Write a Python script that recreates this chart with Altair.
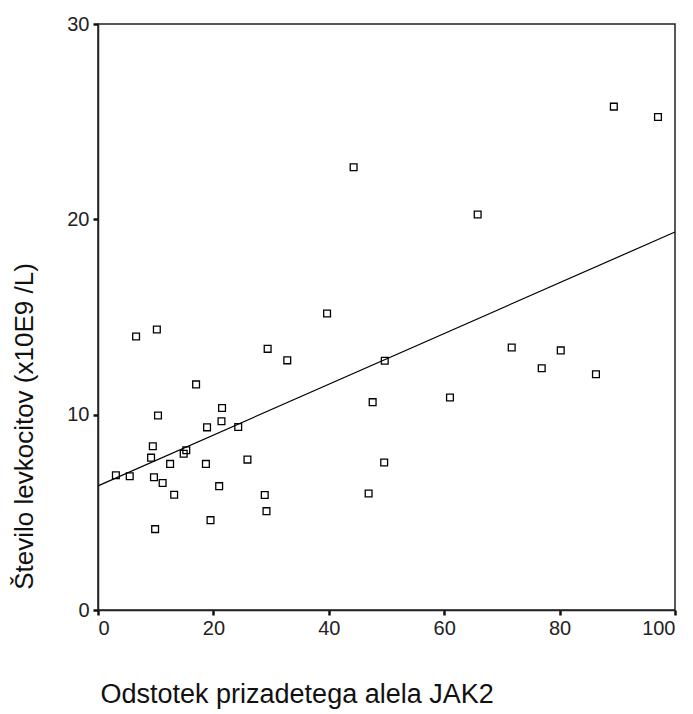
import altair as alt
import pandas as pd

jak2 = [3.1, 5.5, 6.6, 10.2, 10.4, 9.5, 9.2, 9.7, 11.2, 13.2, 9.9, 12.5, 17.0, 14.85,
        15.3, 18.9, 18.7, 21.5, 21.4, 24.3, 25.9, 21.0, 19.5, 28.9, 29.2, 29.4, 32.8,
        44.3, 39.7, 49.7, 47.6, 49.6, 46.9, 65.8, 61.0, 71.7, 80.2, 76.9, 86.3, 89.4, 97.05]
levk = [6.9, 6.85, 14.0, 14.36, 9.96, 8.38, 7.8, 6.8, 6.5, 5.9, 4.14, 7.48, 11.55, 8.0,
        8.18, 9.35, 7.48, 10.34, 9.66, 9.37, 7.7, 6.34, 4.6, 5.89, 5.06, 13.37, 12.78,
        22.67, 15.18, 12.76, 10.64, 7.55, 5.96, 20.25, 10.88, 13.44, 13.29, 12.38, 12.07, 25.77, 25.24]

x_ticks = [0, 20, 40, 60, 80, 100]
y_ticks = [0, 10, 20, 30]

df = pd.DataFrame({"x": jak2, "y": levk})

FONT = "Liberation Sans"

xenc = alt.X("x:Q", scale=alt.Scale(domain=[0, 100], nice=False, zero=False),
             axis=alt.Axis(values=x_ticks, title="Odstotek prizadetega alela JAK2",
                           grid=False, domainColor="#222", domainWidth=1.5,
                           tickColor="#111", tickWidth=2.5, tickSize=5,
                           labelFont=FONT, labelFontSize=20, labelColor="#222", labelPadding=3,
                           titleFont=FONT, titleFontSize=27, titleFontWeight="normal",
                           titleColor="#111", titleAnchor="start", titleAlign="left",
                           titleX=2, titleY=84, titleBaseline="middle"))
yenc = alt.Y("y:Q", scale=alt.Scale(domain=[0, 30], nice=False, zero=False),
             axis=alt.Axis(values=y_ticks, title="Število levkocitov (x10E9 /L)",
                           grid=False, domainColor="#222", domainWidth=1.5,
                           tickColor="#111", tickWidth=2.5, tickSize=5,
                           labelFont=FONT, labelFontSize=20, labelColor="#222", labelPadding=4,
                           titleFont=FONT, titleFontSize=26, titleFontWeight="normal",
                           titleColor="#111", titleAngle=-90, titleAlign="center",
                           titleBaseline="middle", titleX=-74, titleY=402))

base = alt.Chart(df)

points = base.mark_point(shape="square", filled=False, color="black", size=46,
                         strokeWidth=1.3, opacity=1).encode(x=xenc, y=yenc)

reg = base.transform_regression("x", "y", extent=[0, 100]).mark_line(
    color="black", strokeWidth=1.2).encode(x="x:Q", y="y:Q")

chart = (points + reg).properties(
    width=577, height=586,
    autosize=alt.AutoSizeParams(type="none"),
    padding={"left": 98, "top": 24, "right": 18, "bottom": 104},
    background="white",
).configure_view(stroke="#222", strokeWidth=1.5)

chart.save("out.html", embed_options={"renderer": "svg", "actions": False})
